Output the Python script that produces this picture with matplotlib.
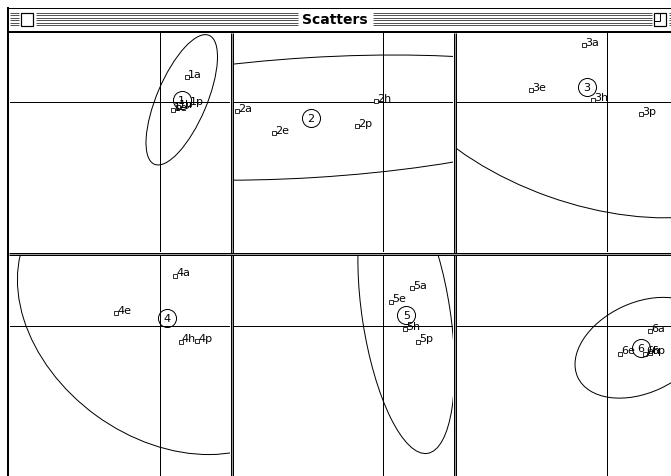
import numpy as np
import matplotlib
matplotlib.use("Agg")
import matplotlib.pyplot as plt
from matplotlib.patches import Ellipse, Rectangle

W, H = 671, 477
DPI = 100

# Observations per group (units: one grid unit = 100 screen pixels)
suffixes = ["a", "e", "h", "p"]
group_names = ["1", "2", "3", "4", "5", "6"]

x_1 = [0.27, 0.13, 0.18, 0.29]
y_1 = [0.25, -0.08, -0.05, -0.02]
x_2 = [-1.466, -1.09, -0.076, -0.26]
y_2 = [-0.084, -0.31, 0.016, -0.234]
x_3 = [-0.224, -0.757, -0.14, 0.34]
y_3 = [0.576, 0.126, 0.023, -0.117]
x_4 = [0.15, -0.44, 0.207, 0.373]
y_4 = [0.50, 0.127, -0.16, -0.15]
x_5 = [0.284, 0.074, 0.217, 0.344]
y_5 = [0.374, 0.24, -0.033, -0.16]
x_6 = [0.433, 0.133, 0.383, 0.433]
y_6 = [-0.057, -0.28, -0.28, -0.273]

xs = [x_1, x_2, x_3, x_4, x_5, x_6]
ys = [y_1, y_2, y_3, y_4, y_5, y_6]

# Dispersion ellipse of each group: full width, full height, angle (deg)
ell_width = [1.40, 5.97, 4.28, 3.26, 2.80, 1.40]
ell_height = [0.50, 1.20, 2.32, 2.42, 0.88, 0.90]
ell_angle = [67.0, 3.5, -19.6, -36.0, -81.3, 25.0]

XLIM = (-1.5, 0.7)
YLIM = (-1.5, 0.7)

fig = plt.figure(figsize=(W / DPI, H / DPI), dpi=DPI)
fig.patch.set_facecolor("white")

# ---- window chrome, drawn in screen pixel coordinates ----
bg = fig.add_axes([0, 0, 1, 1])
bg.set_xlim(0, W)
bg.set_ylim(H, 0)
bg.axis("off")
px = 72.0 / DPI  # one pixel in points

def hline(y, x0, x1, color="black", w=1):
    bg.plot([x0, x1], [y, y], color=color, lw=w * px, solid_capstyle="butt")

def vline(x, y0, y1, color="black", w=1):
    bg.plot([x, x], [y0, y1], color=color, lw=w * px, solid_capstyle="butt")

# outer frame
hline(8.5, 7, W)
vline(8.0, 8, H, w=2)
hline(33.0, 7, W, w=2)

# title bar stripes
stripe_y = [13.5 + 2.5 * i for i in range(6)]
segments = [(10, 19), (36, 298), (373, 652), (669, W)]
for y in stripe_y:
    for x0, x1 in segments:
        hline(y, x0, x1, color="#555555")

# close box
bg.add_patch(Rectangle((21, 13.5), 12, 13, fill=True, fc="white",
                       ec="black", lw=1.2 * px))
# zoom box
bg.add_patch(Rectangle((654, 13.5), 12, 13, fill=True, fc="white",
                       ec="black", lw=1.2 * px))
vline(660, 13.5, 21.5)
hline(21.5, 654, 660)

bg.text(335, 20.5, "Scatters", ha="center", va="center",
        fontsize=10, fontweight="bold", family="DejaVu Sans")

# panel separators
for x in (230.5, 453.5):
    vline(x, 34, H)
    vline(x + 1, 34, H, color="#9a9a9a")
    vline(x + 2, 34, H)
hline(253.5, 9, W)
hline(254.5, 9, W, color="#9a9a9a")
hline(255.5, 9, W)

# ---- the six scatter panels ----
col_left = [10.0, 233.3, 456.7]
row_top = [33.3, 256.5]
PW, PH = 220.0, 220.0

for k in range(6):
    r, c = divmod(k, 3)
    L, T = col_left[c], row_top[r]
    ax = fig.add_axes([L / W, (H - T - PH) / H, PW / W, PH / H])
    ax.set_xlim(*XLIM)
    ax.set_ylim(*YLIM)
    ax.set_facecolor("none")
    ax.axis("off")

    ax.axhline(0, color="black", lw=px)
    ax.axvline(0, color="black", lw=px)

    gx = np.array(xs[k])
    gy = np.array(ys[k])
    cx, cy = gx.mean(), gy.mean()

    ax.add_patch(Ellipse((cx, cy), ell_width[k], ell_height[k],
                         angle=ell_angle[k], fill=False, ec="black",
                         lw=1.0 * px))

    ax.plot(gx, gy, "s", ms=2.6, mfc="white", mec="black", mew=0.8 * px)
    for xi, yi, s in zip(gx, gy, suffixes):
        ax.annotate(group_names[k] + s, (xi, yi), xytext=(1, 0),
                    textcoords="offset pixels", ha="left", va="baseline",
                    fontsize=8, family="DejaVu Sans")

    ax.plot([cx], [cy], "o", ms=13, mfc="none", mec="black", mew=1.0 * px)
    ax.text(cx, cy, group_names[k], ha="center", va="center",
            fontsize=8, family="DejaVu Sans")

fig.savefig("out.png", dpi=DPI, facecolor="white")
